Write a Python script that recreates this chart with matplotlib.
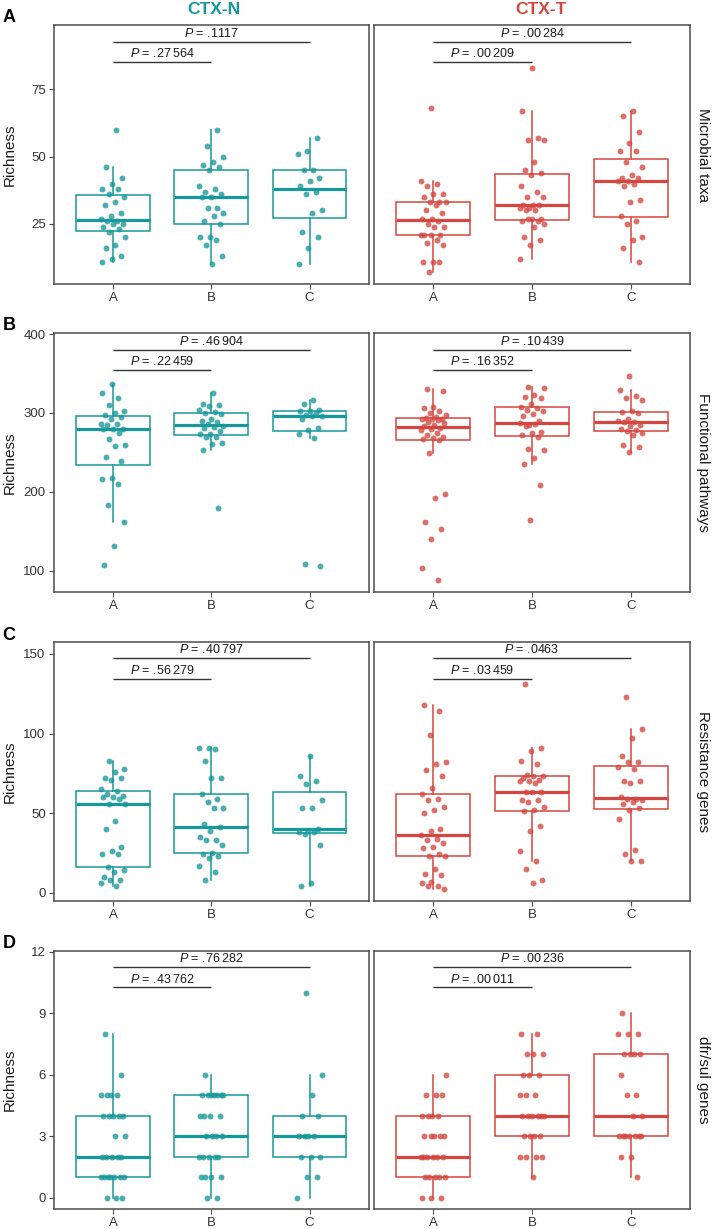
import matplotlib
matplotlib.use("Agg")
import matplotlib.pyplot as plt
import numpy as np

plt.rcParams['font.family'] = ['Liberation Sans', 'DejaVu Sans']
plt.rcParams['mathtext.fontset'] = 'custom'
plt.rcParams['mathtext.it'] = 'Liberation Sans:italic'
plt.rcParams['mathtext.rm'] = 'Liberation Sans'
plt.rcParams['mathtext.default'] = 'it'

# ---------------- data ----------------
groups = ["A", "B", "C"]
conditions = ["CTX-N", "CTX-T"]
metrics = ["Microbial taxa", "Functional pathways", "Resistance genes", "dfr/sul genes"]
panel_letters = ["A", "B", "C", "D"]
cond_colors = ["#17989A", "#D4463F"]

# Microbial taxa richness
taxa_N_A = [60, 46, 42, 40, 38, 38, 36, 35, 33, 32, 29, 28, 27, 26, 26, 25, 25, 24, 23, 22, 20, 17, 16, 13, 12, 11]
taxa_N_B = [60, 54, 50, 48, 47, 46, 45, 39, 38, 37, 36, 35, 35, 31, 31, 29, 28, 26, 25, 20, 20, 19, 17, 13, 10]
taxa_N_C = [57, 52, 51, 45, 45, 42, 41, 39, 37, 36, 30, 29, 22, 20, 16, 10]
taxa_T_A = [68, 41, 40, 39, 36, 36, 35, 33, 33, 33, 32, 30, 29, 27, 27, 26, 25, 24, 24, 21, 21, 21, 21, 19, 18, 17, 11, 11, 11, 7]
taxa_T_B = [83, 67, 57, 56, 56, 48, 45, 44, 43, 39, 37, 35, 35, 32, 32, 32, 31, 31, 30, 30, 27, 27, 26, 26, 27, 25, 24, 20, 19, 17, 12]
taxa_T_C = [67, 65, 59, 55, 52, 52, 48, 46, 43, 42, 42, 41, 41, 40, 39, 34, 33, 28, 26, 25, 20, 19, 16, 11]

# Functional pathways richness
path_N_A = [337, 325, 319, 310, 303, 300, 298, 295, 292, 286, 286, 285, 280, 280, 280, 275, 267, 259, 258, 244, 239, 218, 216, 210, 183, 162, 131, 107]
path_N_B = [325, 311, 310, 309, 304, 301, 300, 299, 292, 290, 289, 286, 284, 282, 281, 277, 274, 273, 270, 270, 262, 261, 253, 180]
path_N_C = [316, 311, 304, 303, 302, 300, 297, 296, 296, 292, 281, 279, 273, 268, 108, 106]
path_T_A = [330, 328, 307, 306, 302, 300, 298, 295, 294, 293, 293, 292, 291, 289, 287, 285, 283, 281, 280, 279, 275, 272,
            270, 268, 267, 266, 249, 197, 192, 162, 153, 140, 103, 88]
path_T_B = [333, 332, 323, 320, 319, 311, 308, 306, 304, 303, 299, 296, 290, 285, 287, 286, 284, 276, 275, 272, 270, 254, 253, 243, 235, 209, 164]
path_T_C = [347, 329, 321, 319, 316, 302, 301, 300, 292, 290, 289, 288, 285, 283, 280, 279, 277, 275, 272, 259, 257, 250]

# Resistance genes richness
res_N_A = [83, 78, 76, 72, 72, 71, 65, 64, 62, 61, 60, 60, 59, 56, 56, 45, 40, 29, 26, 24, 24, 16, 14, 13, 10, 8, 8, 6, 4]
res_N_B = [91, 91, 90, 83, 72, 72, 62, 59, 57, 53, 53, 43, 41, 39, 35, 33, 33, 30, 25, 24, 23, 22, 17, 13, 8]
res_N_C = [86, 73, 70, 68, 58, 53, 53, 40, 39, 38, 38, 37, 30, 6, 4]
res_T_A = [118, 114, 99, 82, 81, 77, 73, 66, 62, 59, 58, 54, 52, 50, 40, 39, 36, 34, 33, 31, 29, 28, 24, 23, 23, 15, 12, 11, 7, 6, 4, 4, 2]
res_T_B = [131, 91, 89, 83, 81, 74, 73, 73, 72, 71, 70, 70, 69, 63, 63, 63, 58, 58, 57, 54, 52, 51, 42, 39, 26, 20, 15, 8, 6]
res_T_C = [123, 103, 97, 86, 82, 82, 79, 78, 70, 70, 69, 60, 59, 59, 58, 57, 56, 53, 52, 46, 27, 24, 20, 20]

# dfr/sul genes richness
dfr_N_A = [8, 6, 5, 5, 5, 5, 4, 4, 4, 4, 4, 3, 3, 2, 2, 2, 2, 2, 1, 1, 1, 1, 1, 1, 1, 0, 0, 0]
dfr_N_B = [6, 5, 5, 5, 5, 5, 5, 5, 4, 4, 4, 4, 3, 3, 3, 3, 2, 2, 2, 2, 2, 1, 1, 1, 1, 0, 0]
dfr_N_C = [10, 6, 5, 4, 4, 3, 3, 3, 3, 2, 2, 2, 1, 1, 0]
dfr_T_A = [6, 5, 5, 5, 4, 4, 4, 4, 3, 3, 3, 3, 3, 2, 2, 2, 2, 2, 2, 1, 1, 1, 1, 1, 0, 0, 0]
dfr_T_B = [8, 8, 7, 7, 7, 6, 6, 6, 5, 5, 5, 4, 4, 4, 4, 4, 4, 3, 3, 3, 3, 2, 2, 2, 2, 1]
dfr_T_C = [9, 8, 8, 8, 7, 7, 7, 7, 6, 5, 5, 4, 4, 3, 3, 3, 3, 3, 3, 3, 2, 2, 1]

# P values (A vs B, A vs C)
p_taxa_N = [".27 564", ".1117"]
p_taxa_T = [".00 209", ".00 284"]
p_path_N = [".22 459", ".46 904"]
p_path_T = [".16 352", ".10 439"]
p_res_N = [".56 279", ".40 797"]
p_res_T = [".03 459", ".0463"]
p_dfr_N = [".43 762", ".76 282"]
p_dfr_T = [".00 011", ".00 236"]

yticks_taxa = [25, 50, 75]
yticks_path = [100, 200, 300, 400]
yticks_res = [0, 50, 100, 150]
yticks_dfr = [0, 3, 6, 9, 12]

rows_data = [
    [[taxa_N_A, taxa_N_B, taxa_N_C], [taxa_T_A, taxa_T_B, taxa_T_C]],
    [[path_N_A, path_N_B, path_N_C], [path_T_A, path_T_B, path_T_C]],
    [[res_N_A, res_N_B, res_N_C], [res_T_A, res_T_B, res_T_C]],
    [[dfr_N_A, dfr_N_B, dfr_N_C], [dfr_T_A, dfr_T_B, dfr_T_C]],
]
rows_p = [[p_taxa_N, p_taxa_T], [p_path_N, p_path_T], [p_res_N, p_res_T], [p_dfr_N, p_dfr_T]]
rows_ticks = [yticks_taxa, yticks_path, yticks_res, yticks_dfr]

# ---------------- layout ----------------
W, H = 712, 1229
fig = plt.figure(figsize=(W / 100, H / 100), dpi=100)
col_px = [(54, 368.5), (374, 690)]
row_px = [(25, 284), (333, 592), (642, 901), (951, 1209)]
ylims = [(2.7, 98.9), (73.1, 401.4), (-5.24, 157.5), (-0.553, 12.03)]
bracket_y = [(85.1, 92.7), (354.9, 380.3), (134.5, 147.5), (10.26, 11.27)]
spine_col = "#4d4d4d"


def jitter(n, shift):
    k = np.arange(1, n + 1) + shift
    return ((k * 0.6180339887498949) % 1.0 - 0.5) * 0.26


def p_label(p):
    return r"$P$ = " + p.replace(" ", r"$\:$")


for r in range(4):
    for c in range(2):
        x0, x1 = col_px[c]
        y0, y1 = row_px[r]
        ax = fig.add_axes([x0 / W, 1 - y1 / H, (x1 - x0) / W, (y1 - y0) / H])
        col = cond_colors[c]
        vals = rows_data[r][c]
        ax.boxplot(vals, positions=[1, 2, 3], widths=0.75, whis=1.5,
                   showfliers=False, showcaps=False, patch_artist=True,
                   boxprops=dict(facecolor="white", edgecolor=col, linewidth=1.1),
                   whiskerprops=dict(color=col, linewidth=1.1),
                   medianprops=dict(color=col, linewidth=2.3),
                   zorder=1)
        for i, v in enumerate(vals):
            xs = (i + 1) + jitter(len(v), 5 * i + 3 * r + 11 * c)
            ax.scatter(xs, v, s=18, color=col, alpha=0.78, linewidths=0, zorder=3)

        # significance brackets
        yl, yh = bracket_y[r]
        ax.plot([1, 2], [yl, yl], color="#333333", lw=1.0, zorder=2, solid_capstyle="butt")
        ax.plot([1, 3], [yh, yh], color="#333333", lw=1.0, zorder=2, solid_capstyle="butt")
        pab, pac = rows_p[r][c]
        ax.annotate(p_label(pab), xy=(1.5, yl), xytext=(0, 1.2), textcoords="offset points",
                    ha="center", va="bottom", fontsize=9, color="#1a1a1a")
        ax.annotate(p_label(pac), xy=(2.0, yh), xytext=(0, 1.2), textcoords="offset points",
                    ha="center", va="bottom", fontsize=9, color="#1a1a1a")

        ax.set_xlim(0.4, 3.6)
        ax.set_ylim(*ylims[r])
        ax.set_xticks([1, 2, 3])
        ax.set_xticklabels(groups)
        ax.set_yticks(rows_ticks[r])
        for s in ax.spines.values():
            s.set_color(spine_col)
            s.set_linewidth(1.1)
        ax.tick_params(axis="both", colors=spine_col, labelcolor="#333333", labelsize=9.5,
                       length=3.5, width=0.8, pad=2.5)
        if c == 1:
            ax.tick_params(axis="y", left=False, labelleft=False)
        else:
            fig.text(9.5 / W, 1 - (y0 + y1) / 2 / H, "Richness", rotation=90,
                     ha="center", va="center", fontsize=11, color="#1a1a1a")
    # strip label
    fig.text(703 / W, 1 - (row_px[r][0] + row_px[r][1]) / 2 / H, metrics[r], rotation=270,
             ha="center", va="center", fontsize=11, color="#1a1a1a")
    # panel letter
    fig.text(9 / W, 1 - (row_px[r][0] - 7) / H, panel_letters[r], fontweight="bold",
             ha="center", va="center", fontsize=13, color="black")

# column titles
fig.text(213.5 / W, 1 - 10 / H, conditions[0], fontweight="bold", color=cond_colors[0],
         ha="center", va="center", fontsize=12.5)
fig.text(541 / W, 1 - 10 / H, conditions[1], fontweight="bold", color=cond_colors[1],
         ha="center", va="center", fontsize=12.5)

fig.savefig("out.png", dpi=100)
